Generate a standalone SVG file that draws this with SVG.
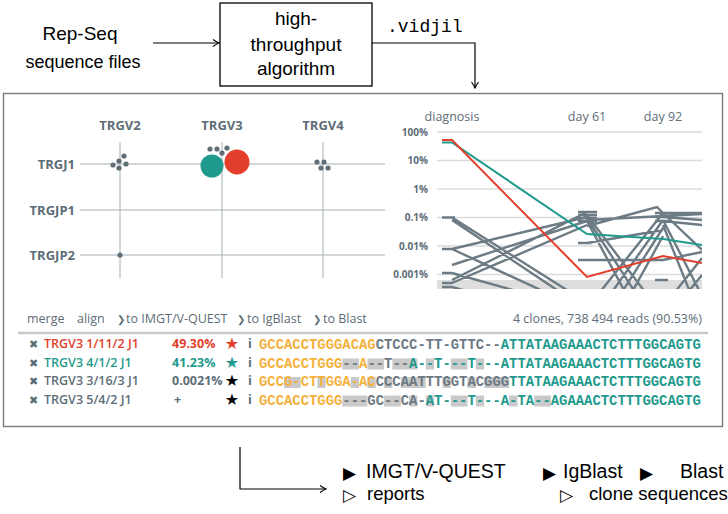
<svg xmlns="http://www.w3.org/2000/svg" width="728" height="514" viewBox="0 0 728 514">
<style>
.tex{font-family:"Liberation Sans",Arial,sans-serif;fill:#000}
.ui{font-family:"Open Sans","DejaVu Sans",sans-serif;fill:#5d6d77}
.b{font-weight:700}
.sb{font-weight:600}
.grid{stroke:#a5aeb3;stroke-width:1;fill:none}
.hg{stroke:#dcdcdc;stroke-width:1.5;fill:none}
.gl{stroke:#6c7b84;stroke-width:2.4;fill:none}
.seq{font-family:"Liberation Mono","Courier New",monospace;font-size:13.9px;font-weight:700}
.Y{fill:#f4b13c}.G{fill:#6c7882}.T{fill:#22998c}
.hl{fill:#c9c9c9}
.dot{fill:#5f6e77}
.ln{stroke:#000;stroke-width:1.2;fill:none}
.x{font-family:"DejaVu Sans",sans-serif;font-size:11px;fill:#5d6d77}
.tri{font-family:"DejaVu Sans",sans-serif;font-size:17px;fill:#000}
</style>
<defs>
<marker id="arr" markerWidth="10" markerHeight="10" refX="9" refY="5" orient="auto" markerUnits="userSpaceOnUse">
<path d="M3,1.5 Q6.5,4 9,5 Q6.5,6 3,8.5" stroke="#000" stroke-width="1.1" fill="none"/>
</marker>
<clipPath id="cg"><rect x="437" y="120" width="265" height="169"/></clipPath>
</defs>

<g id="connectors">
<path class="ln" d="M153,43 H219" marker-end="url(#arr)"/>
<path class="ln" d="M372,43 H475 V88" marker-end="url(#arr)"/>
<path class="ln" d="M240,447 V489 H326" marker-end="url(#arr)"/>
</g>

<g id="input">
<text class="tex" x="80" y="40" font-size="19" text-anchor="middle">Rep-Seq</text>
<text class="tex" x="83" y="68" font-size="18" text-anchor="middle">sequence files</text>
</g>

<g id="algorithm">
<rect x="220" y="3" width="152" height="83" fill="#fff" stroke="#000" stroke-width="1.3"/>
<text class="tex" x="296" y="25" font-size="19" text-anchor="middle">high-</text>
<text class="tex" x="296" y="51" font-size="19" text-anchor="middle">throughput</text>
<text class="tex" x="296" y="75" font-size="19" text-anchor="middle">algorithm</text>
</g>

<g id="vidjil-label">
<text x="387" y="32" font-family="Liberation Mono,Courier New,monospace" font-size="18">.vidjil</text>
</g>

<g id="browser">
<rect x="3.5" y="93.5" width="719" height="333" fill="#fff" stroke="#7a7a7a" stroke-width="1.4"/>

<g id="scatter">
<path class="grid" d="M120,142 V278 M222,142 V278 M323,142 V278 M80,164 H385 M80,210 H385 M80,255 H385"/>
<text class="ui b" x="120" y="130" font-size="13" text-anchor="middle">TRGV2</text>
<text class="ui b" x="222" y="130" font-size="13" text-anchor="middle">TRGV3</text>
<text class="ui b" x="323" y="130" font-size="13" text-anchor="middle">TRGV4</text>
<text class="ui b" x="75" y="169" font-size="13" text-anchor="end">TRGJ1</text>
<text class="ui b" x="75" y="215" font-size="13" text-anchor="end">TRGJP1</text>
<text class="ui b" x="75" y="260" font-size="13" text-anchor="end">TRGJP2</text>
<circle class="dot" cx="113" cy="165" r="2.6"/>
<circle class="dot" cx="119" cy="161" r="2.6"/>
<circle class="dot" cx="124" cy="156" r="2.6"/>
<circle class="dot" cx="126" cy="164" r="2.6"/>
<circle class="dot" cx="119" cy="168" r="2.6"/>
<circle class="dot" cx="210" cy="149" r="2.6"/>
<circle class="dot" cx="217" cy="149" r="2.6"/>
<circle class="dot" cx="222" cy="153" r="2.6"/>
<circle class="dot" cx="227" cy="148" r="2.6"/>
<circle class="dot" cx="317" cy="162" r="2.6"/>
<circle class="dot" cx="324" cy="162" r="2.6"/>
<circle class="dot" cx="321" cy="168" r="2.6"/>
<circle class="dot" cx="328" cy="168" r="2.6"/>
<circle class="dot" cx="120" cy="255" r="2.6"/>
<circle cx="212" cy="166" r="11.5" fill="#1f9a8c"/>
<circle cx="237" cy="162" r="12.5" fill="#e33e2b"/>
</g>

<g id="graph">
<text class="ui" x="452" y="121" font-size="12.5" text-anchor="middle">diagnosis</text>
<text class="ui" x="587" y="121" font-size="12.5" text-anchor="middle">day 61</text>
<text class="ui" x="663" y="121" font-size="12.5" text-anchor="middle">day 92</text>
<path class="hg" d="M437,132 H702 M437,160.5 H702 M437,189 H702 M437,217.5 H702 M437,246 H702 M437,274.5 H702"/>
<rect x="437" y="280" width="265" height="9" fill="#dedede"/>
<g class="ui b" font-size="10" text-anchor="end">
<text x="428" y="135.5">100%</text>
<text x="428" y="164">10%</text>
<text x="428" y="192.5">1%</text>
<text x="428" y="221">0.1%</text>
<text x="428" y="249.5">0.01%</text>
<text x="428" y="278">0.001%</text>
</g>
<g clip-path="url(#cg)">
<path class="gl" d="M442,217.5 H455 M442,249 H452 M442,273 H452 M442,283 H452 M442,287 H452
M452,217.5 L570,292 M452,220 L560,292 M452,249 L587,217 M452,249 L545,292 M452,265 L587,221
M452,273 L520,292 M452,283 L587,225 M452,287 L470,292 M452,280 L587,212
M578,212 H597 M578,215 H597 M578,218 H597 M578,221 H597 M578,243 H592 M578,260 H590
M587,220 L702,214 M587,215 L645,292 M587,218 L635,292 M587,221 L625,292 M587,243 L663,230
M580,260 L663,260 L702,252 M600,292 L663,213 M612,292 L663,220 M622,292 L663,228 M632,292 L663,236
M587,226 L657,207 L663,213 M655,213 H672 M655,217 H672 M655,221 H672 M655,280 H668
M663,213 L702,213 M663,217 L702,220 M663,221 L702,225 M663,213 L702,250 M663,220 L700,292
M663,225 L690,292 M675,292 L702,258 M688,292 L702,275"/>
<path d="M442,142.5 H452 L587,234 L663,239 L702,245" stroke="#1f9a8c" stroke-width="2" fill="none"/>
<path d="M442,140 H452 L587,277 L663,256 L702,263" stroke="#e33e2b" stroke-width="2" fill="none"/>
</g>
</g>

<g id="menu">
<text class="ui" x="27" y="323" font-size="12.5">merge</text>
<text class="ui" x="77" y="323" font-size="12.5">align</text>
<text class="ui" x="117" y="323" font-size="10">❯</text>
<text class="ui" x="126" y="323" font-size="12.5">to IMGT/V-QUEST</text>
<text class="ui" x="237" y="323" font-size="10">❯</text>
<text class="ui" x="247" y="323" font-size="12.5">to IgBlast</text>
<text class="ui" x="313" y="323" font-size="10">❯</text>
<text class="ui" x="323" y="323" font-size="12.5">to Blast</text>
<text class="ui" x="702" y="323" font-size="12.5" text-anchor="end">4 clones, 738 494 reads (90.53%)</text>
<line x1="18" y1="333" x2="708" y2="333" stroke="#c8c8c8" stroke-width="2.5"/>
</g>

<g id="clone1">
<text class="x" x="29" y="348">✖</text>
<text class="ui sb" x="44" y="348" font-size="12.5" style="fill:#e33e2b">TRGV3 1/11/2 J1</text>
<text class="ui b" x="172" y="348" font-size="12.5" style="fill:#e33e2b">49.30%</text>
<text x="232" y="349" font-family="DejaVu Sans,sans-serif" font-size="16" text-anchor="middle" fill="#e33e2b">★</text>
<text class="ui b" x="250" y="348" font-size="12.5" text-anchor="middle">i</text>
<text class="seq" x="259" y="349"><tspan class="Y">GCCACCTGGGACAG</tspan><tspan class="G">CTCCC-TT-GTTC--</tspan><tspan class="T">ATTATAAGAAACTCTTTGGCAGTG</tspan></text>
</g>

<g id="clone2">
<text class="x" x="29" y="366.5">✖</text>
<text class="ui sb" x="44" y="366.5" font-size="12.5" style="fill:#1f9a8c">TRGV3 4/1/2 J1</text>
<text class="ui b" x="172" y="366.5" font-size="12.5" style="fill:#1f9a8c">41.23%</text>
<text x="232" y="367.5" font-family="DejaVu Sans,sans-serif" font-size="16" text-anchor="middle" fill="#1f9a8c">★</text>
<text class="ui b" x="250" y="366.5" font-size="12.5" text-anchor="middle">i</text>
<g class="hl">
<rect x="342.4" y="358.5" width="16.7" height="11"/>
<rect x="367.4" y="358.5" width="16.7" height="11"/>
<rect x="392.4" y="358.5" width="25" height="11"/>
<rect x="425.8" y="358.5" width="8.3" height="11"/>
<rect x="450.8" y="358.5" width="16.7" height="11"/>
<rect x="475.8" y="358.5" width="8.3" height="11"/>
</g>
<text class="seq" x="259" y="367.5"><tspan class="Y">GCCACCTGGG</tspan><tspan class="G">--</tspan><tspan class="Y">A</tspan><tspan class="G">--T--</tspan><tspan class="T">A--T---T---ATTATAAGAAACTCTTTGGCAGTG</tspan></text>
</g>

<g id="clone3">
<text class="x" x="29" y="385">✖</text>
<text class="ui sb" x="44" y="385" font-size="12.5">TRGV3 3/16/3 J1</text>
<text class="ui b" x="172" y="385" font-size="12.5">0.0021%</text>
<text x="232" y="386" font-family="DejaVu Sans,sans-serif" font-size="16" text-anchor="middle" fill="#000">★</text>
<text class="ui b" x="250" y="385" font-size="12.5" text-anchor="middle">i</text>
<g class="hl">
<rect x="284" y="377" width="16.7" height="11"/>
<rect x="317.4" y="377" width="8.3" height="11"/>
<rect x="350.7" y="377" width="8.3" height="11"/>
<rect x="367.4" y="377" width="8.3" height="11"/>
<rect x="384.1" y="377" width="8.3" height="11"/>
<rect x="400.8" y="377" width="25" height="11"/>
<rect x="442.5" y="377" width="8.3" height="11"/>
<rect x="467.5" y="377" width="8.3" height="11"/>
<rect x="484.2" y="377" width="25" height="11"/>
</g>
<text class="seq" x="259" y="386"><tspan class="Y">GCCG-CTTGGA-AC</tspan><tspan class="G">CCCAATTTGGTACGGG</tspan><tspan class="T">TTATAAGAAACTCTTTGGCAGTG</tspan></text>
</g>

<g id="clone4">
<text class="x" x="29" y="403.5">✖</text>
<text class="ui sb" x="44" y="403.5" font-size="12.5">TRGV3 5/4/2 J1</text>
<text class="ui b" x="174" y="403.5" font-size="12.5">+</text>
<text x="232" y="404.5" font-family="DejaVu Sans,sans-serif" font-size="16" text-anchor="middle" fill="#000">★</text>
<text class="ui b" x="250" y="403.5" font-size="12.5" text-anchor="middle">i</text>
<g class="hl">
<rect x="342.4" y="395.5" width="25" height="11"/>
<rect x="384.1" y="395.5" width="16.7" height="11"/>
<rect x="409.1" y="395.5" width="8.3" height="11"/>
<rect x="425.8" y="395.5" width="8.3" height="11"/>
<rect x="450.8" y="395.5" width="16.7" height="11"/>
<rect x="475.8" y="395.5" width="8.3" height="11"/>
<rect x="509.2" y="395.5" width="8.3" height="11"/>
<rect x="534.2" y="395.5" width="16.7" height="11"/>
</g>
<text class="seq" x="259" y="404.5"><tspan class="Y">GCCACCTGGG</tspan><tspan class="G">---GC--CA-</tspan><tspan class="T">AT---T---A-TA--AGAAACTCTTTGGCAGTG</tspan></text>
</g>
</g>

<g id="outputs">
<text class="tri" x="343" y="479">▶</text>
<text class="tex" x="366" y="478" font-size="19.5">IMGT/V-QUEST</text>
<text class="tri" x="543" y="479">▶</text>
<text class="tex" x="563" y="478" font-size="19.5">IgBlast</text>
<text class="tri" x="640" y="479">▶</text>
<text class="tex" x="680" y="478" font-size="19.5">Blast</text>
<text class="tri" x="343" y="501">▷</text>
<text class="tex" x="367" y="500" font-size="18.5">reports</text>
<text class="tri" x="560" y="501">▷</text>
<text class="tex" x="589" y="500" font-size="18.5">clone sequences</text>
</g>
</svg>
